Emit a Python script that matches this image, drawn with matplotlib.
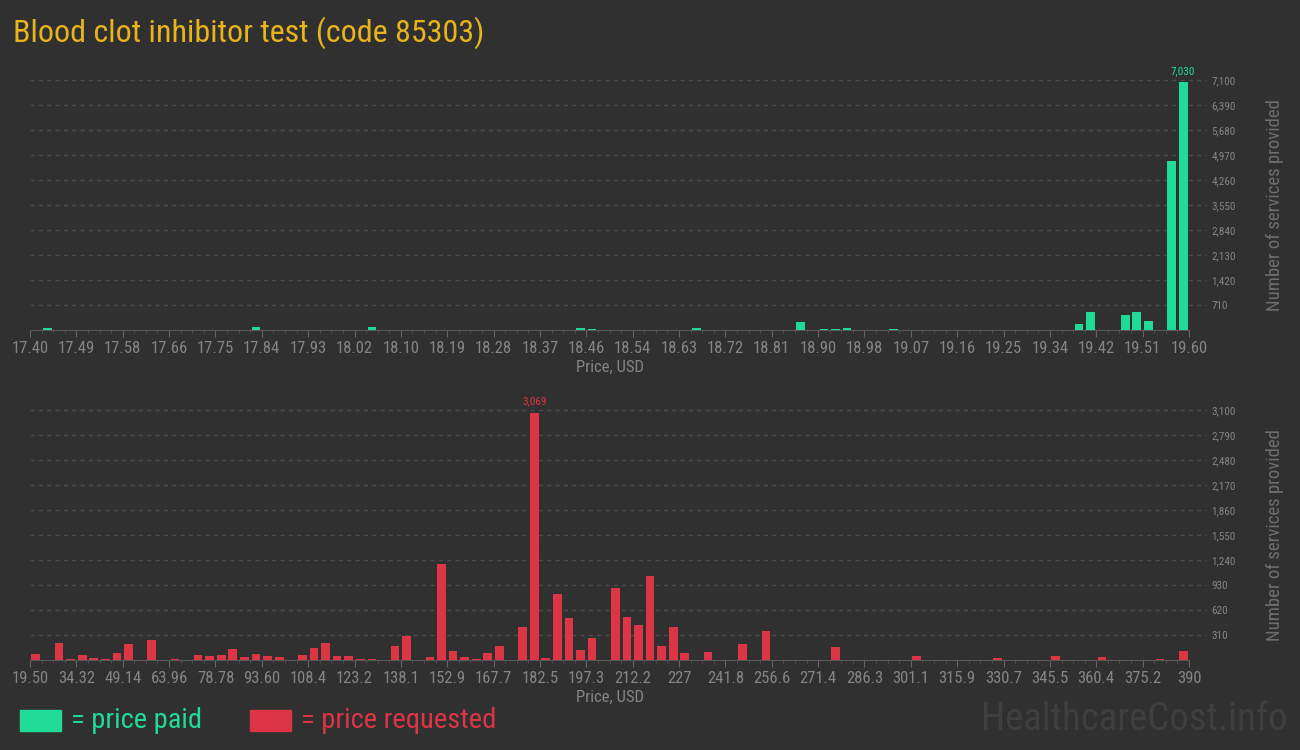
"""Histogram of paid vs requested prices for a blood clot inhibitor test."""

import matplotlib

matplotlib.use("Agg")
import matplotlib.pyplot as plt
import numpy as np
from matplotlib.patches import Rectangle

# ---- data ----
TITLE = "Blood clot inhibitor test (code 85303)"

paid_range = (17.40, 19.60)
paid_bins = [1, 19, 29, 47, 48, 57, 66, 68, 69, 70, 74, 90, 91, 94, 95, 96, 98, 99]
paid_counts = [50, 85, 85, 55, 25, 55, 230, 25, 25, 50, 15, 170, 510, 425, 510, 255, 4800, 7030]
paid_xlabels = ["17.40", "17.49", "17.58", "17.66", "17.75", "17.84", "17.93", "18.02",
                "18.10", "18.19", "18.28", "18.37", "18.46", "18.54", "18.63", "18.72",
                "18.81", "18.90", "18.98", "19.07", "19.16", "19.25", "19.34", "19.42",
                "19.51", "19.60"]
paid_yticks = [710, 1420, 2130, 2840, 3550, 4260, 4970, 5680, 6390, 7100]

req_range = (19.50, 390.0)
req_bins = [0, 2, 3, 4, 5, 6, 7, 8, 10, 12, 14, 15, 16, 17, 18, 19, 20, 21, 23, 24, 25,
            26, 27, 28, 29, 31, 32, 34, 35, 36, 37, 38, 39, 40, 42, 43, 44, 45, 46, 47,
            48, 50, 51, 52, 53, 54, 55, 56, 58, 61, 63, 69, 76, 83, 88, 92, 97, 99]
req_counts = [75, 211, 15, 62, 25, 15, 87, 198, 248, 15, 62, 50, 62, 136, 37, 74, 50, 37,
              62, 149, 211, 50, 50, 15, 15, 174, 298, 37, 1190, 112, 37, 15, 87, 174, 409,
              3069, 25, 818, 521, 124, 273, 893, 533, 434, 1042, 174, 409, 87, 99, 198, 360,
              161, 50, 25, 50, 37, 15, 112]
req_xlabels = ["19.50", "34.32", "49.14", "63.96", "78.78", "93.60", "108.4", "123.2",
               "138.1", "152.9", "167.7", "182.5", "197.3", "212.2", "227", "241.8",
               "256.6", "271.4", "286.3", "301.1", "315.9", "330.7", "345.5", "360.4",
               "375.2", "390"]
req_yticks = [310, 620, 930, 1240, 1550, 1860, 2170, 2480, 2790, 3100]

N_BINS = 100

# ---- style ----
BG = "#303030"
GREEN = "#20db98"
RED = "#dc3545"
GOLD = "#e8b41c"
GRAY = "#858585"
GRID = "#4b4b4b"
NARROW = ["Roboto Condensed", "Liberation Sans Narrow", "Roboto", "DejaVu Sans"]

plt.rcParams["font.family"] = NARROW


def draw_hist(ax, rng, bins, counts, xlabels, yticks, color):
    lo, hi = rng
    edges = np.linspace(lo, hi, N_BINS + 1)
    w = edges[1] - edges[0]
    idx = np.array(bins)
    vals = np.array(counts)
    ax.bar(edges[idx] + w / 2, vals, width=w * 0.75, color=color, zorder=3)

    ax.set_facecolor(BG)
    ax.set_xlim(lo, hi)
    ax.set_ylim(0, yticks[-1])
    for s in ["top", "left", "right"]:
        ax.spines[s].set_visible(False)
    ax.spines["bottom"].set_color("#585858")

    ax.set_xticks(np.linspace(lo, hi, len(xlabels)))
    ax.set_xticklabels(xlabels)
    ax.set_xticks(edges, minor=True)
    ax.tick_params(axis="x", which="major", length=5, color="#666666", labelcolor=GRAY,
                   labelsize=12, pad=3)
    ax.tick_params(axis="x", which="minor", length=2.5, color="#555555")

    ax.yaxis.tick_right()
    ax.set_yticks(yticks)
    ax.set_yticklabels([f"{v:,}" for v in yticks])
    ax.tick_params(axis="y", length=0, labelcolor=GRAY, labelsize=8, pad=16)
    for v in yticks:
        ax.axhline(v, xmin=0, xmax=1.015, color=GRID, lw=1, ls=(0, (3, 3)),
                   clip_on=False, zorder=1)

    ax.set_xlabel("Price, USD", color=GRAY, fontsize=12, labelpad=3)
    ax.yaxis.set_label_position("right")
    ax.set_ylabel("Number of services provided", color="#6e6e6e", fontsize=13.5)
    ax.yaxis.set_label_coords(1.066, 0.5)

    top = int(np.argmax(vals))
    ax.text(edges[idx[top]] + w / 2, vals[top] + yticks[-1] * 0.025, f"{vals[top]:,}",
            color=color, fontsize=8, ha="center", va="bottom", clip_on=False)


fig = plt.figure(figsize=(13, 7.5), dpi=100, facecolor=BG)

ax_top = fig.add_axes([30 / 1300, 1 - 330 / 750, 1159 / 1300, 250 / 750])
ax_bot = fig.add_axes([30 / 1300, 1 - 660 / 750, 1159 / 1300, 250 / 750])

draw_hist(ax_top, paid_range, paid_bins, paid_counts, paid_xlabels, paid_yticks, GREEN)
draw_hist(ax_bot, req_range, req_bins, req_counts, req_xlabels, req_yticks, RED)

fig.text(13 / 1300, 1 - 33 / 750, TITLE, color=GOLD, fontsize=23, va="center", ha="left")

# legend
fig.patches.append(Rectangle((20 / 1300, 1 - 731 / 750), 41 / 1300, 21 / 750,
                             transform=fig.transFigure, color=GREEN, figure=fig))
fig.text(71 / 1300, 1 - 720 / 750, "= price paid", color=GREEN, fontsize=20.5, va="center")
fig.patches.append(Rectangle((250 / 1300, 1 - 731 / 750), 41 / 1300, 21 / 750,
                             transform=fig.transFigure, color=RED, figure=fig))
fig.text(301 / 1300, 1 - 720 / 750, "= price requested", color=RED, fontsize=20.5, va="center")

fig.text(1288 / 1300, 1 - 720 / 750, "HealthcareCost.info", color="#3f3f3f", fontsize=28,
         va="center", ha="right")

fig.savefig("out.png", dpi=100, facecolor=BG)
